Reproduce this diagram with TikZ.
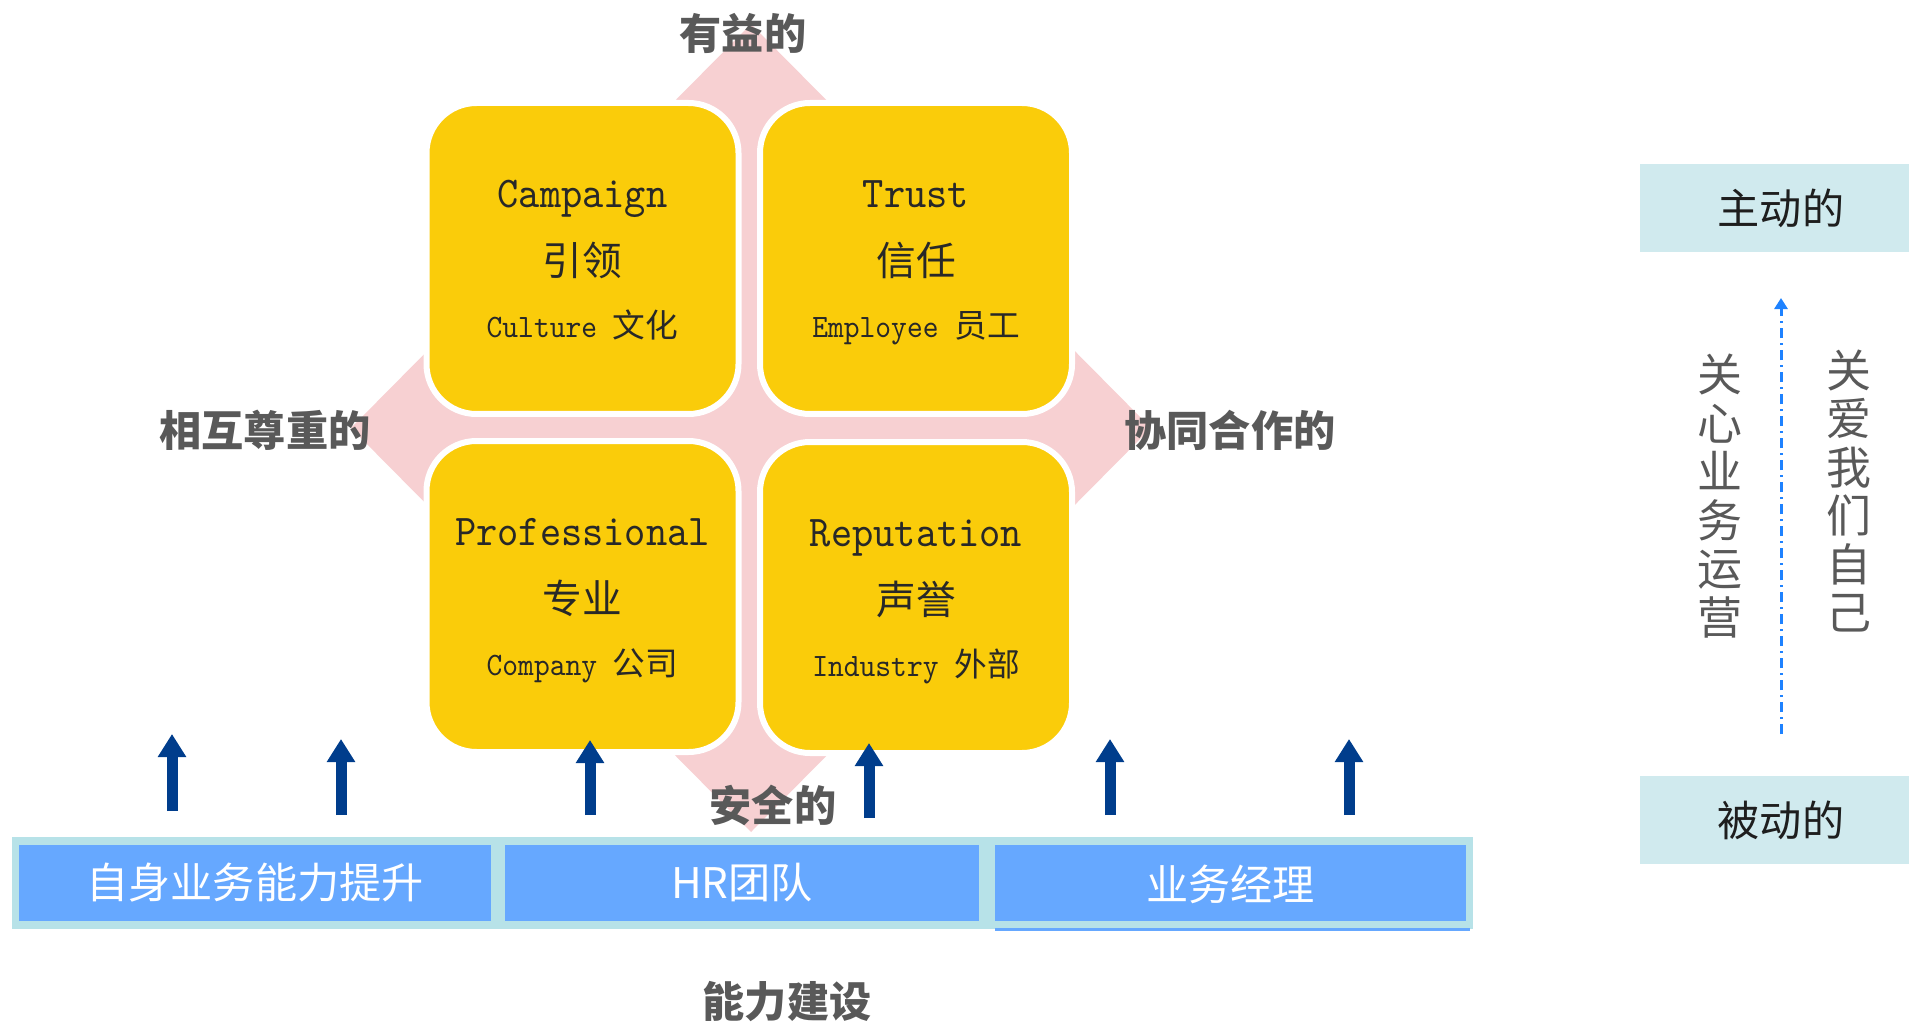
\documentclass[tikz,border=0pt]{standalone}
\usepackage{fontspec}
\setmainfont{Noto Sans CJK SC}
\newfontfamily\boxlatin[FakeStretch=0.92]{lmmono10-regular.otf}
\usetikzlibrary{arrows.meta}

\definecolor{diamondpink}{RGB}{247,208,210}
\definecolor{cardyellow}{RGB}{250,204,10}
\definecolor{cardtext}{RGB}{40,40,40}
\definecolor{labelgray}{RGB}{89,89,89}
\definecolor{panelcyan}{RGB}{208,234,238}
\definecolor{paneltext}{RGB}{30,30,30}
\definecolor{barcyan}{RGB}{183,226,232}
\definecolor{barblue}{RGB}{102,168,255}
\definecolor{navyblue}{RGB}{0,61,140}
\definecolor{dotblue}{RGB}{30,130,255}

\tikzset{
  card/.style={draw=white, line width=0.6mm, fill=cardyellow, rounded corners=5mm,
    minimum width=31.2mm, minimum height=31.1mm, inner sep=0pt},
  cardtitle/.style={anchor=base, inner sep=0pt, text=cardtext, font=\boxlatin\fontsize{12.5}{15}\selectfont},
  cardcn/.style={anchor=base, inner sep=0pt, text=cardtext, font=\fontsize{11.3}{13}\selectfont},
  cardsub/.style={anchor=base, inner sep=0pt, text=cardtext, font=\fontsize{9.3}{11}\selectfont},
  sidelabel/.style={inner sep=0pt, text=labelgray, font=\bfseries\fontsize{12}{14}\selectfont},
  panel/.style={fill=panelcyan, minimum width=28.2mm, minimum height=8.8mm, text=paneltext,
    font=\fontsize{12}{14}\selectfont},
  barbox/.style={fill=barblue, minimum height=7.6mm, text=white, font=\fontsize{12}{14}\selectfont},
  upstroke/.style={navyblue, line width=1.1mm, -{Triangle[width=2.7mm,length=2.3mm]}},
  careline/.style={inner sep=0pt, text=labelgray, align=center, font=\fontsize{12.8}{13.8}\selectfont},
}

% one yellow quadrant: name, x, y, title, chinese, sub line
\newcommand\card[6]{%
  \node[card] (#1) at (#2,#3) {};
  \node[cardtitle] (#1-en) at (#2,#3-51) {#4};
  \node[cardcn] (#1-cn) at (#2,#3+17) {#5};
  \node[cardsub] (#1-sub) at (#2,#3+79) {#6};
}

\begin{document}
\begin{tikzpicture}[x=0.1mm,y=-0.1mm]
		%%%%% START %%%%%
		\useasboundingbox (0,0) rectangle (1909,1024);
		
		\fill[diamondpink] (751,24) -- (1151,428) -- (751,832) -- (351,428) -- cycle;
		
		\card{camp}{582.5}{258.5}{Campaign}{引领}{{\boxlatin Culture }文化}
		\card{trust}{916}{258.5}{Trust}{信任}{{\boxlatin Employee }员工}
		\card{prof}{582.5}{596.5}{Professional}{专业}{{\boxlatin Company }公司}
		\card{repu}{916}{597.5}{Reputation}{声誉}{{\boxlatin Industry }外部}
		
		\node[sidelabel] (benefit) at (743,33) {有益的};
		\node[sidelabel] (respect) at (265,430) {相互尊重的};
		\node[sidelabel] (teamwork) at (1230,430) {协同合作的};
		\node[sidelabel] (safe) at (773,805) {安全的};
		
		% bottom bar
		\fill[barcyan] (12,837) rectangle (1473,929);
		\node[barbox, minimum width=47.2mm] (self) at (255,883) {自身业务能力提升};
		\node[barbox, minimum width=47.4mm] (hr) at (742,883) {HR团队};
		\node[barbox, minimum width=47.1mm, text depth=-0.5mm] (mgr) at (1230.5,883) {业务经理};
		\fill[barblue] (995,928) rectangle (1470,931);
		\node[sidelabel] (build) at (787,1002) {能力建设};
		
		\foreach \x/\t/\b [count=\i] in {172/734/811, 341/739/815, 590/740/815, 869/743/818, 1110/739/815, 1349/739/815}{
			\coordinate (up\i-s) at (\x,\b);
			\coordinate (up\i-e) at (\x,\t);
			\draw[upstroke] (up\i-s) -- (up\i-e);
		}
		
		% right panel
		\node[panel] (active) at (1781,208) {主动的};
		\node[panel] (passive) at (1781,820) {被动的};
		\coordinate (pass-end) at (1781,734);
		\coordinate (act-end) at (1781,298);
		\draw[dotblue, line width=0.3mm, dash pattern=on 1mm off 0.5mm on 0.2mm off 0.5mm,
			-{Triangle[width=1.3mm,length=1.1mm]}] (pass-end) -- (act-end);
		\node[careline] (business) at (1720,496) {关\\心\\业\\务\\运\\营};
		\node[careline] (ourselves) at (1849,491) {关\\爱\\我\\们\\自\\己};
		%%%%% END %%%%%
\end{tikzpicture}
\end{document}
